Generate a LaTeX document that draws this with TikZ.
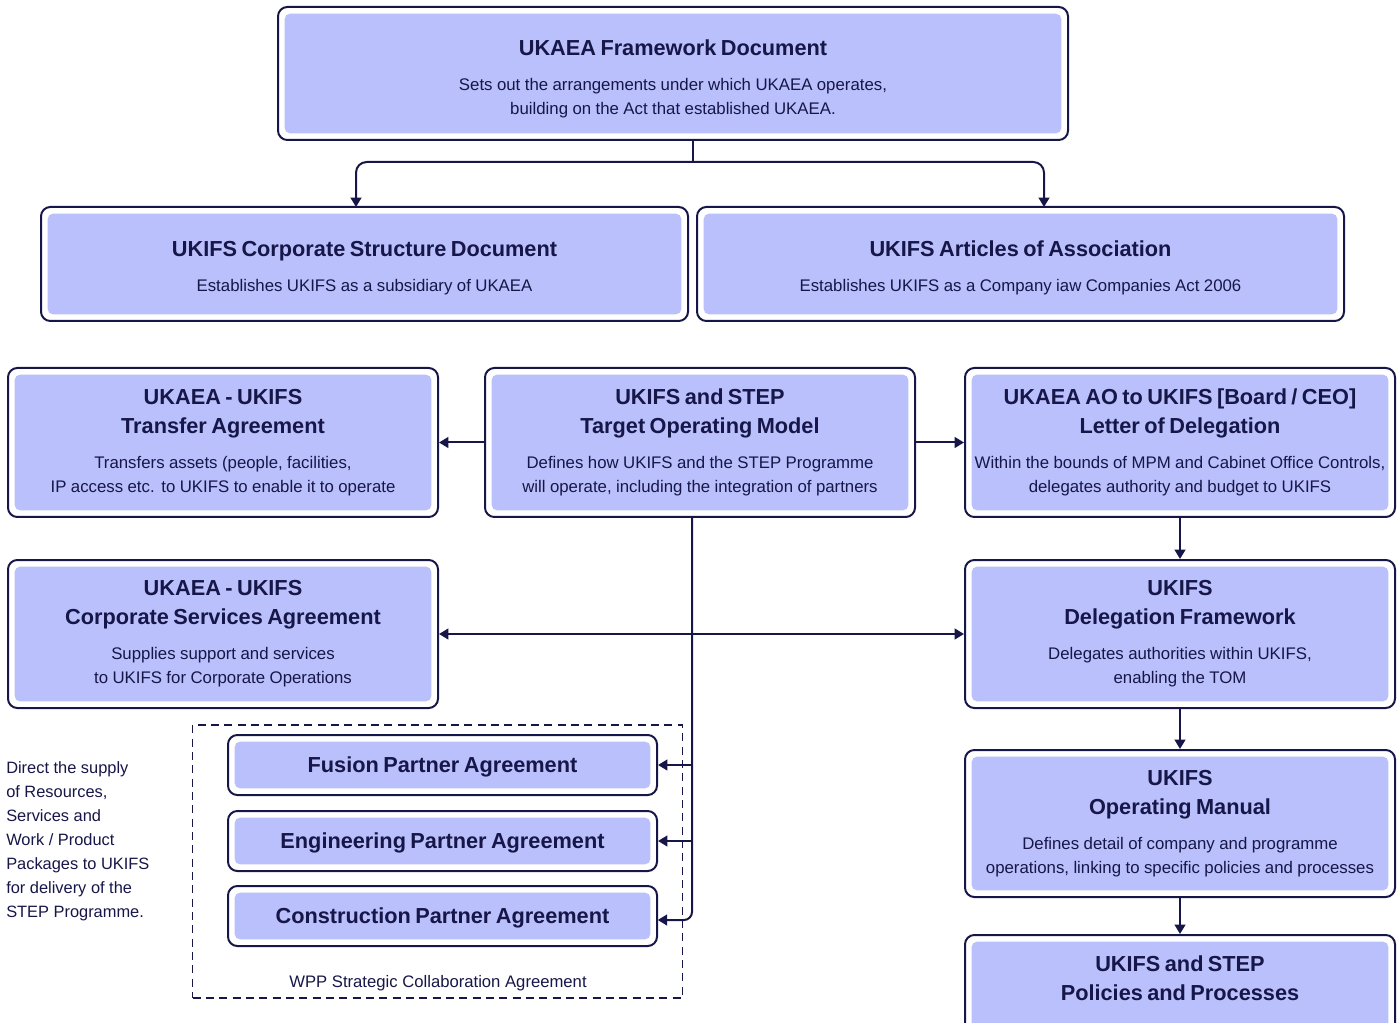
\documentclass[tikz,border=0pt]{standalone}
\usepackage{fontspec}
\setmainfont{Liberation Sans}
\usetikzlibrary{arrows.meta,calc}
\definecolor{navy}{RGB}{22,22,72}
\definecolor{boxfill}{RGB}{186,192,252}
\newcommand\Ttl{\fontsize{16.3}{21.75}\selectfont\bfseries}
\newcommand\Bdy{\fontsize{12.6}{18}\selectfont}
\newcommand\Note{\fontsize{12.3}{18}\selectfont}
\tikzset{
  docbox/.style={draw=navy, line width=1.5pt, fill=white, rounded corners=7pt,
    inner sep=0pt, text=navy, align=center,
    path picture={\fill[boxfill, rounded corners=4pt]
      ([shift={(5pt,5pt)}]path picture bounding box.south west) rectangle
      ([shift={(-5pt,-5pt)}]path picture bounding box.north east);}},
  wh/.style n args={3}{minimum width=#1, minimum height=#2, text width=#3},
  conn/.style={draw=navy, line width=1.5pt, -{Triangle[length=7pt,width=8pt]}},
  plainline/.style={draw=navy, line width=1.5pt},
}
\begin{document}
\begin{tikzpicture}[x=0.75pt, y=-0.75pt]
\useasboundingbox (0,0) rectangle (1400,1023);

% boxes
\node[docbox, wh={592.5pt}{99.75pt}{570pt}] (top) at (673,73.5)
  {{\Ttl \rule{0pt}{19.5pt}UKAEA Framework Document\par}\vspace{8.25pt}
   {\Bdy Sets out the arrangements under which UKAEA operates,\\building on the Act that established UKAEA.\par}};
\node[docbox, wh={485.25pt}{85.5pt}{465pt}] (csd) at (364.5,264)
  {{\Ttl \rule{0pt}{17.2pt}UKIFS Corporate Structure Document\par}\vspace{8.25pt}
   {\Bdy Establishes UKIFS as a subsidiary of UKAEA\par}};
\node[docbox, wh={485.25pt}{85.5pt}{465pt}] (aoa) at (1020.5,264)
  {{\Ttl \rule{0pt}{17.2pt}UKIFS Articles of Association\par}\vspace{8.25pt}
   {\Bdy Establishes UKIFS as a Company iaw Companies Act 2006\par}};
\node[docbox, wh={322.5pt}{111.75pt}{314pt}] (ta) at (223,442.5)
  {{\Ttl UKAEA - UKIFS\\Transfer Agreement\par}\vspace{8.25pt}
   {\Bdy Transfers assets (people, facilities,\\IP access etc. to UKIFS to enable it to operate\par}};
\node[docbox, wh={322.5pt}{111.75pt}{314pt}] (tom) at (700,442.5)
  {{\Ttl UKIFS and STEP\\Target Operating Model\par}\vspace{8.25pt}
   {\Bdy Defines how UKIFS and the STEP Programme\\will operate, including the integration of partners\par}};
\node[docbox, wh={322.5pt}{111.75pt}{314pt}] (lod) at (1180,442.5)
  {{\Ttl UKAEA AO to UKIFS [Board / CEO]\\Letter of Delegation\par}\vspace{8.25pt}
   {\Bdy Within the bounds of MPM and Cabinet Office Controls,\\delegates authority and budget to UKIFS\par}};
\node[docbox, wh={322.5pt}{111pt}{314pt}] (csa) at (223,634)
  {{\Ttl UKAEA - UKIFS\\Corporate Services Agreement\par}\vspace{8.25pt}
   {\Bdy Supplies support and services\\to UKIFS for Corporate Operations\par}};
\node[docbox, wh={322.5pt}{111pt}{314pt}] (df) at (1180,634)
  {{\Ttl UKIFS\\Delegation Framework\par}\vspace{8.25pt}
   {\Bdy Delegates authorities within UKIFS,\\enabling the TOM\par}};
\node[docbox, wh={322.5pt}{110.25pt}{314pt}] (om) at (1180,823.5)
  {{\Ttl UKIFS\\Operating Manual\par}\vspace{8.25pt}
   {\Bdy Defines detail of company and programme\\operations, linking to specific policies and processes\par}};
\node[docbox, wh={322.5pt}{110.25pt}{314pt}] (pp) at (1180,1008.5)
  {{\Ttl \rule{0pt}{15.7pt}UKIFS and STEP\\Policies and Processes\par}\vspace{8.25pt}
   {\Bdy\strut\\\strut\par}};

% WPP frame
\node[draw=navy, line width=1.1pt, dash pattern=on 6pt off 4pt, minimum width=367.5pt,
  minimum height=204.75pt, inner sep=0pt] (wpp) at (437.5,861.5) {};
\node[text=navy, font=\fontsize{12.5}{18}\selectfont] (wpplabel) at (438,983) {WPP Strategic Collaboration Agreement};

\node[docbox, wh={321.75pt}{45pt}{314pt}] (fpa) at (442.5,765) {\Ttl\rule{0pt}{14.9pt}Fusion Partner Agreement};
\node[docbox, wh={321.75pt}{45pt}{314pt}] (epa) at (442.5,841) {\Ttl\rule{0pt}{14.9pt}Engineering Partner Agreement};
\node[docbox, wh={321.75pt}{45pt}{314pt}] (cpa) at (442.5,916) {\Ttl\rule{0pt}{14.9pt}Construction Partner Agreement};

% left note
\node[anchor=north west, align=left, text=navy, inner sep=0pt, font=\Note] (note) at (6,761)
  {Direct the supply\\of Resources,\\Services and\\Work / Product\\Packages to UKIFS\\for delivery of the\\STEP Programme.};

% coordinates
\coordinate (topout) at (693,140);
\coordinate (split) at (693,162);
\coordinate (csdin) at (356,207);
\coordinate (aoain) at (1044,207);
\coordinate (tomout) at (692,517);
\coordinate (cpain) at (657.75,920);

% connectors
\draw[plainline] (topout) -- (split);
\draw[conn, rounded corners=8pt] (split) -| (csdin);
\draw[conn, rounded corners=8pt] (split) -| (aoain);
\draw[conn] (tom.west) -- (ta.east);
\draw[conn] (tom.east) -- (lod.west);
\draw[conn] (lod.south) -- (df.north);
\draw[conn] (df.south) -- (om.north);
\draw[conn] (om.south) -- (pp.north);
\draw[conn, {Triangle[length=7pt,width=8pt]}-{Triangle[length=7pt,width=8pt]}] (csa.east) -- (df.west);
\draw[conn, rounded corners=6pt] (tomout) |- (cpain);
\draw[conn] (fpa.east -| tomout) -- (fpa.east);
\draw[conn] (epa.east -| tomout) -- (epa.east);
\end{tikzpicture}
\end{document}
